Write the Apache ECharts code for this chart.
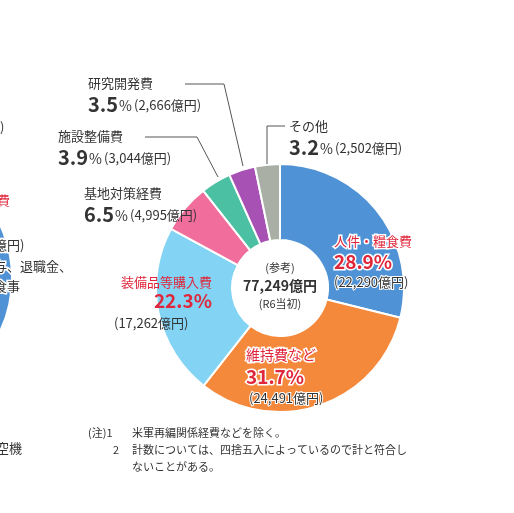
<!DOCTYPE html><html><head><meta charset="utf-8"><script src="https://cdn.jsdelivr.net/npm/echarts@6/dist/echarts.min.js"></script>
<style>html,body{margin:0;background:#fff}#c{width:514px;height:513px}</style></head><body><div id="c"></div><script>
const categories=['人件・糧食費','維持費など','装備品等購入費','基地対策経費','施設整備費','研究開発費','その他'];
const values=[22290,24491,17262,4995,3044,2666,2502];
const percents=['28.9','31.7','22.3','6.5','3.9','3.5','3.2'];
const colors=['#4f92d6','#f5893b','#83d3f4','#f06d9c','#4cc0a2','#a851b5','#a9afa5'];
const leftPartValues=[35,65];
const F='"Noto Sans CJK JP","Noto Sans",sans-serif';
const dark='#333',red='#e0263a';
function t(x,y,s,size,color,opt){return {type:'text',x:x,y:y,z:100,style:Object.assign({text:s,fontSize:size,fill:color,fontFamily:F,textVerticalAlign:'middle'},opt||{})};}
const fmt=v=>v.toLocaleString('en-US')+'億円';
function outer(x,y,i,name){return [t(x,y,name,13,dark),
 {type:'text',x:x,y:y+21,z:100,style:{text:'{b|'+percents[i]+'}{s|%}{n|('+fmt(values[i])+')}',fontFamily:F,textVerticalAlign:'middle',
  rich:{b:{fontSize:20,fontWeight:'bold',fill:dark,fontFamily:F},s:{fontSize:14,fill:dark,fontFamily:F,padding:[3,2,0,1]},n:{fontSize:13,fill:dark,fontFamily:F,padding:[2,0,0,0]}}}}];}
const g=[].concat(
 outer(88,83,5,categories[5]),outer(58,136,4,categories[4]),outer(84,193,3,categories[3]),outer(289,126,6,categories[6]),
 [
 {type:'polyline',z:100,shape:{points:[[185,84],[224,84],[243,166]]},style:{stroke:'#555',lineWidth:1,fill:null}},
 {type:'polyline',z:100,shape:{points:[[145,137],[197,137],[218,177]]},style:{stroke:'#555',lineWidth:1,fill:null}},
 {type:'polyline',z:100,shape:{points:[[285,126],[267,126],[267,164]]},style:{stroke:'#555',lineWidth:1,fill:null}},
 t(334,241,categories[0],13,red,{stroke:'#fff',lineWidth:3}),
 t(334,262,percents[0]+'%',19,red,{fontWeight:'bold',stroke:'#fff',lineWidth:3}),
 t(334,282,'('+fmt(values[0])+')',13,dark,{stroke:'#fff',lineWidth:2}),
 t(212,282,categories[2],13,red,{textAlign:'right'}),
 t(212,301,percents[2]+'%',19,red,{fontWeight:'bold',textAlign:'right'}),
 t(114,323,'('+fmt(values[2])+')',13,dark),
 t(246,355,categories[1],14,red,{stroke:'#fff',lineWidth:3}),
 t(246,377,percents[1]+'%',19,red,{fontWeight:'bold',stroke:'#fff',lineWidth:3}),
 t(249,398,'('+fmt(values[1])+')',13,dark,{stroke:'#fff',lineWidth:2}),
 t(280,268,'(参考)',11,dark,{textAlign:'center'}),
 t(280,286,'77,249億円',14,dark,{textAlign:'center',fontWeight:'bold'}),
 t(280,304,'(R6当初)',11,dark,{textAlign:'center'}),
 t(88,433,'(注)1',11,dark),t(132,433,'米軍再編関係経費などを除く。',11,dark),
 t(113,450,'2',11,dark),t(132,450,'計数については、四捨五入によっているので計と符合し',11,dark),
 t(132,467,'ないことがある。',11,dark),
 t(0,127,')',13,dark),t(-3,200,'費',13,red),t(-6,245,'億円)',13,dark,{stroke:'#fff',lineWidth:3}),t(-6,266,'与、退職金、',13,dark,{stroke:'#fff',lineWidth:3}),t(-6,286,'食事',13,dark,{stroke:'#fff',lineWidth:3}),t(-4,448,'空機',13,dark)
 ]);
echarts.init(document.getElementById('c')).setOption({animation:false,
 series:[{type:'pie',center:[280,288],radius:[48,124],startAngle:90,label:{show:false},labelLine:{show:false},
  itemStyle:{borderColor:'#fff',borderWidth:2},data:categories.map((n,i)=>({name:n,value:values[i],itemStyle:{color:colors[i]}}))},
 {type:'pie',center:[-112,278],radius:[48,124],startAngle:90,label:{show:false},silent:true,itemStyle:{borderColor:'#fff',borderWidth:2},
  data:leftPartValues.map((v,i)=>({value:v,itemStyle:{color:colors[i]}}))}],
 graphic:g});
</script></body></html>
